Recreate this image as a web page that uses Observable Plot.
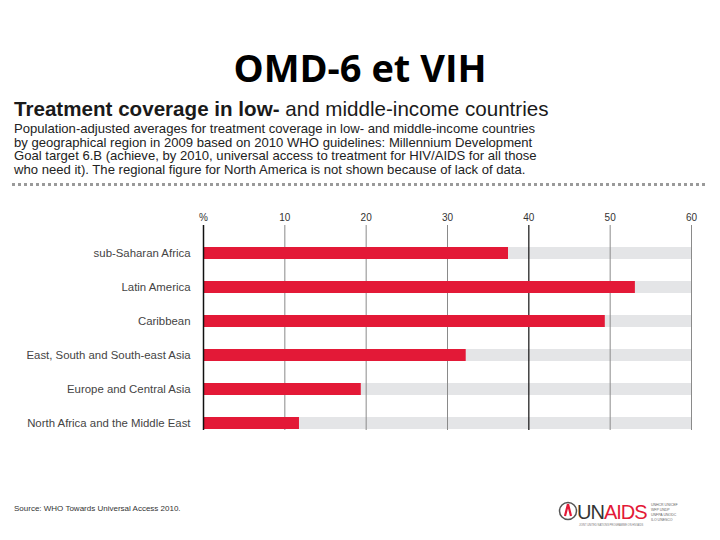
<!DOCTYPE html>
<html><head><meta charset="utf-8">
<script src="https://cdn.jsdelivr.net/npm/d3@7"></script>
<script src="https://cdn.jsdelivr.net/npm/@observablehq/plot@0.6"></script>
<style>
html,body{margin:0;padding:0;background:#fff;width:720px;height:540px;overflow:hidden;font-family:"Liberation Sans",Arial,sans-serif;}
#main{position:absolute;left:0;top:43px;width:720px;text-align:center;font-family:"Open Sans",sans-serif;font-weight:bold;font-size:38px;color:#000;line-height:48px;}
#ctitle{position:absolute;left:14px;top:97px;font-size:20.6px;color:#1a1a1a;white-space:nowrap;}
#sub{position:absolute;left:14px;top:122px;font-size:13.1px;line-height:13.7px;color:#222;white-space:nowrap;}
#dots{position:absolute;left:12px;top:183px;width:693px;height:0;border-top:3px dotted #9a9a9a;}
#chart{position:absolute;left:0;top:205px;}
#src{position:absolute;left:14px;top:504px;font-size:8px;color:#333;}
#logo{position:absolute;left:556px;top:499px;}
</style></head><body>
<div id="main">OMD-6 et VIH</div>
<div id="ctitle"><b>Treatment coverage in low-</b> and middle-income countries</div>
<div id="sub">Population-adjusted averages for treatment coverage in low- and middle-income countries<br>by geographical region in 2009 based on 2010 WHO guidelines: Millennium Development<br>Goal target 6.B (achieve, by 2010, universal access to treatment for HIV/AIDS for all those<br>who need it). The regional figure for North America is not shown because of lack of data.</div>
<div id="dots"></div>
<div id="chart"></div>
<div id="src">Source: WHO Towards Universal Access 2010.</div>
<div id="logo">
<svg width="140" height="30">
<circle cx="12" cy="12" r="8.5" fill="none" stroke="#555" stroke-width="1.5"/>
<path d="M12 5 L9 17 M12 5 L15 17" stroke="#e31937" stroke-width="2.2" fill="none"/>
<text x="21" y="20" font-family="Liberation Sans" font-size="20" fill="#333" letter-spacing="-1">UN<tspan fill="#e31937">AIDS</tspan></text>
<text x="23" y="27" font-family="Liberation Sans" font-size="2.6" fill="#777">JOINT UNITED NATIONS PROGRAMME ON HIV/AIDS</text>
<text x="95" y="7" font-family="Liberation Sans" font-size="3.5" fill="#666">UNHCR   UNICEF</text>
<text x="95" y="12" font-family="Liberation Sans" font-size="3.5" fill="#666">WFP     UNDP</text>
<text x="95" y="17" font-family="Liberation Sans" font-size="3.5" fill="#666">UNFPA   UNODC</text>
<text x="95" y="22" font-family="Liberation Sans" font-size="3.5" fill="#666">ILO     UNESCO</text>
</svg>
</div>
<script>
const regions = ["sub-Saharan Africa","Latin America","Caribbean","East, South and South-east Asia","Europe and Central Asia","North Africa and the Middle East"];
const coverage = [37.5, 53.1, 49.4, 32.3, 19.4, 11.8];
const maxScale = 60;
const ticks = [0,10,20,30,40,50,60];

const data = regions.map((r,i)=>({region:r, value:coverage[i]}));

const chart = Plot.plot({
  width: 720,
  height: 225,
  marginLeft: 203,
  marginRight: 29,
  marginTop: 20,
  marginBottom: 0,
  style: {fontFamily: "'Liberation Sans', Arial, sans-serif", background: "transparent"},
  x: {domain: [0, maxScale], axis: null, label: null},
  y: {domain: regions, range: [18.6, 247.4], padding: 0.65, axis: null, label: null},
  marks: [
    Plot.barX(data, {y: "region", x1: 0, x2: maxScale, fill: "#e4e5e7"}),
    Plot.ruleX(ticks.filter(t => t !== 0 && t !== 40), {stroke: "#8a8a8a", strokeWidth: 1}),
    Plot.ruleX([40], {stroke: "#111", strokeWidth: 1.2}),
    Plot.barX(data, {y: "region", x: "value", fill: "#e31937"}),
    Plot.ruleX([0], {stroke: "#111", strokeWidth: 1.5}),
    Plot.axisX(ticks, {anchor: "top", tickSize: 0, tickPadding: 5, fontSize: 10, fill: "#333", label: null,
      tickFormat: d => d === 0 ? "%" : d}),
    Plot.axisY(regions, {anchor: "left", tickSize: 0, tickPadding: 13, fontSize: 11.4, fill: "#444", label: null})
  ]
});
document.getElementById("chart").appendChild(chart);
</script>
</body></html>
